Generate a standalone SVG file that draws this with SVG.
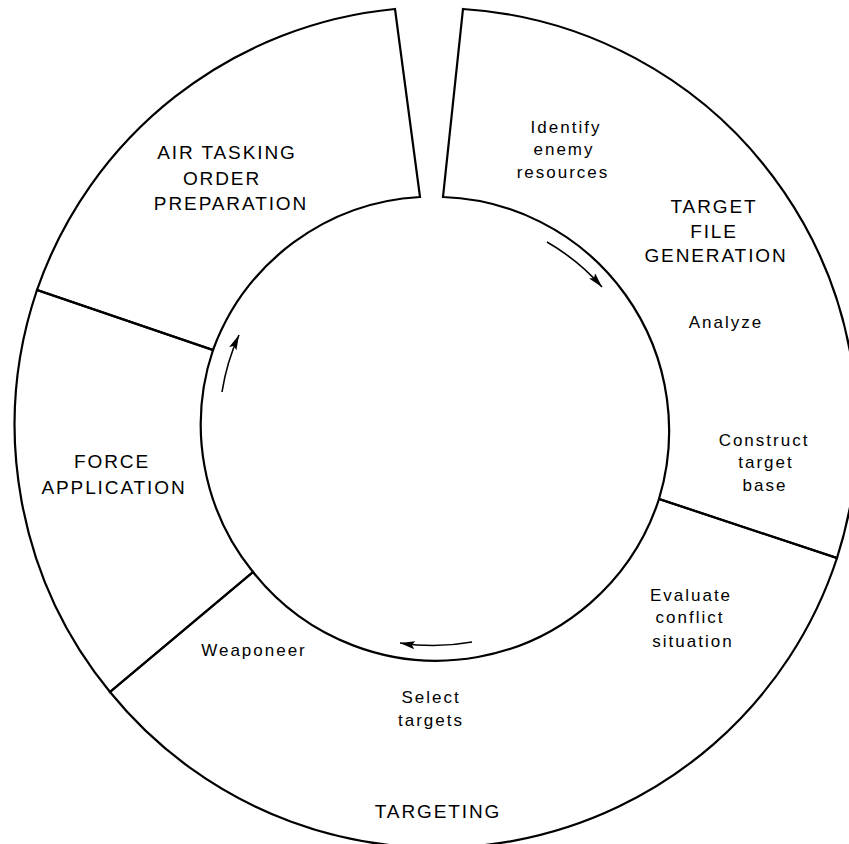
<svg xmlns="http://www.w3.org/2000/svg" width="849" height="844" viewBox="0 0 849 844">
  <style>
    .seg { fill: none; stroke: #000; stroke-width: 2.2; stroke-linejoin: miter; }
    .cap { font-family: "Liberation Sans", Arial, sans-serif; font-size: 19px; letter-spacing: 1.9px; text-anchor: middle; fill: #000; }
    .sm { font-family: "Liberation Sans", Arial, sans-serif; font-size: 17px; letter-spacing: 2px; text-anchor: middle; fill: #000; }
    .arr { fill: none; stroke: #000; stroke-width: 1.6; }
  </style>
  <defs>
    <marker id="ah" markerUnits="userSpaceOnUse" markerWidth="17" markerHeight="9" refX="15" refY="4" orient="auto">
      <path d="M0,0 L15,4 L0,8 L3,4 Z" fill="#000"/>
    </marker>
  </defs>
  <rect width="849" height="844" fill="#fff"/>

  <g id="target-file-generation">
    <path class="seg" d="M463,9 A421,421 0 0,1 837,558 L659,499 A234,234 0 0,0 443,197 Z"/>
    <text class="sm" x="566" y="133">Identify</text>
    <text class="sm" x="564" y="155">enemy</text>
    <text class="sm" x="563" y="178">resources</text>
    <text class="cap" x="714" y="213">TARGET</text>
    <text class="cap" x="714" y="238">FILE</text>
    <text class="cap" x="716" y="262">GENERATION</text>
    <text class="sm" x="726" y="328">Analyze</text>
    <text class="sm" x="764" y="446">Construct</text>
    <text class="sm" x="766" y="468">target</text>
    <text class="sm" x="765" y="491">base</text>
  </g>

  <g id="targeting">
    <path class="seg" d="M837,558 A421,421 0 0,1 110,692 L253,572 A234,234 0 0,0 659,499 Z"/>
    <text class="sm" x="691" y="601">Evaluate</text>
    <text class="sm" x="690" y="623">conflict</text>
    <text class="sm" x="693" y="647">situation</text>
    <text class="sm" x="431" y="703">Select</text>
    <text class="sm" x="431" y="726">targets</text>
    <text class="sm" x="254" y="656">Weaponeer</text>
    <text class="cap" x="438" y="818">TARGETING</text>
  </g>

  <g id="force-application">
    <path class="seg" d="M110,692 A421,421 0 0,1 37,290 L213,350 A234,234 0 0,0 253,572 Z"/>
    <text class="cap" x="112" y="468">FORCE</text>
    <text class="cap" x="114" y="494">APPLICATION</text>
  </g>

  <g id="air-tasking-order-preparation">
    <path class="seg" d="M37,290 A421,421 0 0,1 395,9 L420,197 A234,234 0 0,0 213,350 Z"/>
    <text class="cap" x="227" y="159">AIR TASKING</text>
    <text class="cap" x="222" y="185">ORDER</text>
    <text class="cap" x="231" y="210">PREPARATION</text>
  </g>

  <g id="connectors">
    <path class="arr" d="M547,242 A219,219 0 0,1 602,287" marker-end="url(#ah)"/>
    <path class="arr" d="M472,642 A216,216 0 0,1 400,643" marker-end="url(#ah)"/>
    <path class="arr" d="M222,392 A217,217 0 0,1 239,335" marker-end="url(#ah)"/>
  </g>
</svg>
